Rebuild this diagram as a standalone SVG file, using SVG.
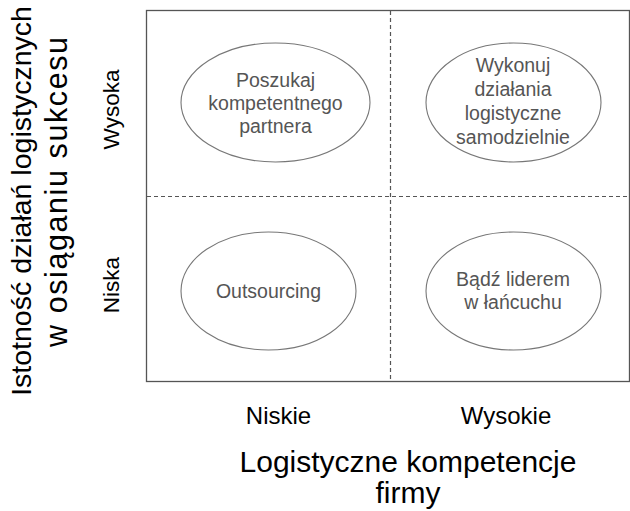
<svg xmlns="http://www.w3.org/2000/svg" width="630" height="511" viewBox="0 0 630 511">
<style>
.frame{fill:none;stroke:#555;stroke-width:1.3}
.dash{stroke:#555;stroke-width:1.2;stroke-dasharray:4 3;fill:none}
.ell{fill:#fff;stroke:#777;stroke-width:1.1}
.nt{font-family:"Liberation Sans",Arial,sans-serif;font-size:19.5px;fill:#555;text-anchor:middle}
.ax{font-family:"Liberation Sans",Arial,sans-serif;fill:#000;text-anchor:middle}
</style>
<rect x="0" y="0" width="630" height="511" fill="#fff"/>
<g id="connectors">
<rect class="frame" x="146.5" y="10.5" width="483" height="371"/>
<line class="dash" x1="390.5" y1="11" x2="390.5" y2="381"/>
<line class="dash" x1="147" y1="196.5" x2="629" y2="196.5"/>
</g>
<g id="node-partner">
<ellipse class="ell" cx="275.5" cy="102.5" rx="94.5" ry="59.5"/>
<text class="nt" x="275.5" y="87">Poszukaj</text>
<text class="nt" x="275.5" y="110">kompetentnego</text>
<text class="nt" x="275.5" y="133">partnera</text>
</g>
<g id="node-samodzielnie">
<ellipse class="ell" cx="513.5" cy="102.5" rx="87.5" ry="59.5"/>
<text class="nt" x="513" y="72">Wykonuj</text>
<text class="nt" x="513" y="96">działania</text>
<text class="nt" x="513" y="120">logistyczne</text>
<text class="nt" x="513" y="144">samodzielnie</text>
</g>
<g id="node-outsourcing">
<ellipse class="ell" cx="268.5" cy="291" rx="87.5" ry="59"/>
<text class="nt" x="268.5" y="298">Outsourcing</text>
</g>
<g id="node-lider">
<ellipse class="ell" cx="513.5" cy="291" rx="87.5" ry="59"/>
<text class="nt" x="513" y="286">Bądź liderem</text>
<text class="nt" x="513" y="309">w łańcuchu</text>
</g>
<g id="axis-x">
<text class="ax" x="278.5" y="424" font-size="24">Niskie</text>
<text class="ax" x="506" y="424" font-size="24">Wysokie</text>
<text class="ax" x="408" y="472" font-size="30">Logistyczne kompetencje</text>
<text class="ax" x="408" y="503" font-size="30">firmy</text>
</g>
<g id="axis-y">
<text class="ax" transform="translate(119,109.5) rotate(-90)" font-size="22.5">Wysoka</text>
<text class="ax" transform="translate(119,285) rotate(-90)" font-size="22.5">Niska</text>
<text class="ax" transform="translate(31,201) rotate(-90)" font-size="28.5">Istotność działań logistycznych</text>
<text class="ax" transform="translate(67,192) rotate(-90)" font-size="30.5" textLength="310">w osiąganiu sukcesu</text>
</g>
</svg>
